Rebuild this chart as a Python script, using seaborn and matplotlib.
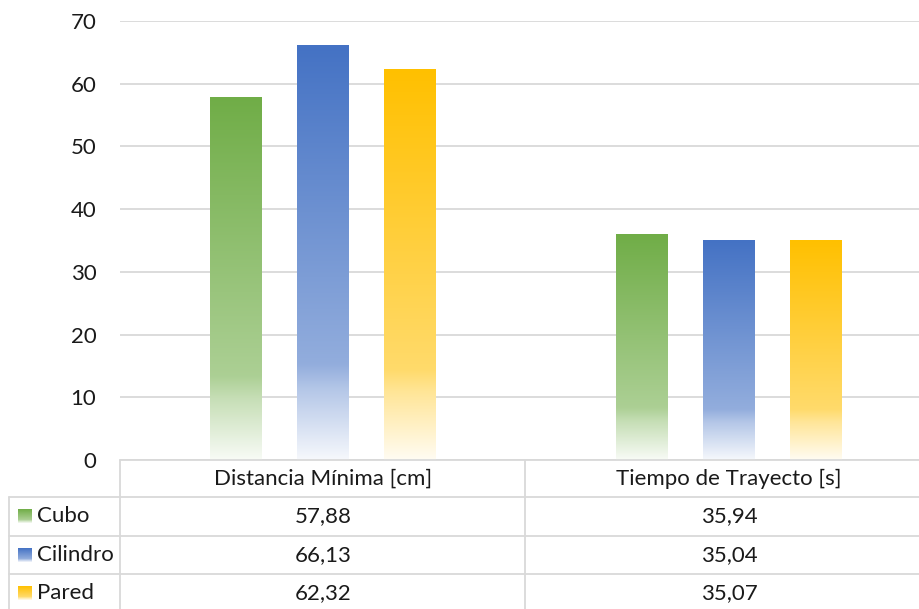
import numpy as np
import pandas as pd
import seaborn as sns
import matplotlib.pyplot as plt
from matplotlib.colors import to_rgb
from matplotlib.lines import Line2D
from matplotlib.transforms import blended_transform_factory

# Data
categorias = ["Distancia Mínima [cm]", "Tiempo de Trayecto [s]"]
series = ["Cubo", "Cilindro", "Pared"]
cubo = [57.88, 35.94]
cilindro = [66.13, 35.04]
pared = [62.32, 35.07]
colores = ["#70AD47", "#4472C4", "#FFC000"]
yticks = [0, 10, 20, 30, 40, 50, 60, 70]

df = pd.DataFrame({
    "categoria": categorias * 3,
    "serie": np.repeat(series, len(categorias)),
    "valor": cubo + cilindro + pared,
})

sns.set_style("white")
plt.rcParams["font.family"] = ["Lato", "DejaVu Sans"]
TEXT = "#1a1a1a"
GRID = "#d9d9d9"
FS = 16

W, H = 920, 609
fig = plt.figure(figsize=(W / 100, H / 100), dpi=100)


def fx(px):
    return px / W


def fy(py):
    return 1 - py / H


ax = fig.add_axes([fx(120), fy(460), (932 - 120) / W, (460 - 21) / H])
sns.barplot(data=df, x="categoria", y="valor", hue="serie", palette=colores,
            saturation=1, width=0.64, gap=0.4, legend=False, ax=ax)


def gradiente(color, n=256):
    """Vertical fade from the full colour at the top to near white at the bottom."""
    c = np.array(to_rgb(color))
    t = np.linspace(0, 1, n)
    tinte = np.interp(t, [0, 0.77, 0.83, 1.0], [0, 0.42, 0.6, 0.95])
    rgb = c[None, :] + (1 - c[None, :]) * tinte[:, None]
    return rgb[:, None, :]


# Replace flat bar fills with gradient fills
for patch in list(ax.patches):
    x0, w, h = patch.get_x(), patch.get_width(), patch.get_height()
    fc = patch.get_facecolor()[:3]
    ax.imshow(gradiente(fc), extent=(x0, x0 + w, 0, h), aspect="auto",
              origin="upper", zorder=2, interpolation="bilinear")
    patch.set_visible(False)

ax.set_xlim(-0.5, 1.5)
ax.set_ylim(0, 70)
ax.set_yticks(yticks)
ax.set_yticklabels([str(v) for v in yticks])
ax.grid(axis="y", color=GRID, linewidth=1.3)
ax.set_axisbelow(True)
for s in ax.spines.values():
    s.set_visible(False)
ax.tick_params(axis="y", length=0, pad=17, labelsize=FS, labelcolor=TEXT)
ax.tick_params(axis="x", bottom=False, labelbottom=False)
ax.set_xlabel("")
ax.set_ylabel("")

# Data table under the plot
tr = blended_transform_factory(ax.transData, fig.transFigure)


def linea(x0, y0, x1, y1):
    fig.add_artist(Line2D([fx(x0), fx(x1)], [fy(y0), fy(y1)], color=GRID,
                          linewidth=1.3, transform=fig.transFigure))


filas = [460, 497, 535.5, 574, 612.5]
linea(120, filas[0], 920, filas[0])
for yy in filas[1:]:
    linea(9.5, yy, 920, yy)
linea(9.5, filas[1], 9.5, 612)
linea(120, filas[0], 120, 612)
linea(525.5, filas[0], 525.5, 612)

centros = [(filas[i] + filas[i + 1]) / 2 for i in range(len(filas) - 1)]
for i, cat in enumerate(categorias):
    fig.text(i, fy(centros[0]), cat, transform=tr, ha="center", va="center",
             fontsize=FS, color=TEXT)

valores = [cubo, cilindro, pared]
for r, (nombre, vals, col) in enumerate(zip(series, valores, colores)):
    yc = centros[r + 1]
    sw = fig.add_axes([fx(18), fy(yc + 7), 14 / W, 14 / H])
    sw.imshow(gradiente(col), aspect="auto", extent=(0, 1, 0, 1))
    sw.set_axis_off()
    fig.text(fx(37), fy(yc), nombre, ha="left", va="center", fontsize=FS, color=TEXT)
    for i, v in enumerate(vals):
        fig.text(i, fy(yc), f"{v:.2f}".replace(".", ","), transform=tr,
                 ha="center", va="center", fontsize=FS, color=TEXT)

fig.savefig("out.png", dpi=100)
